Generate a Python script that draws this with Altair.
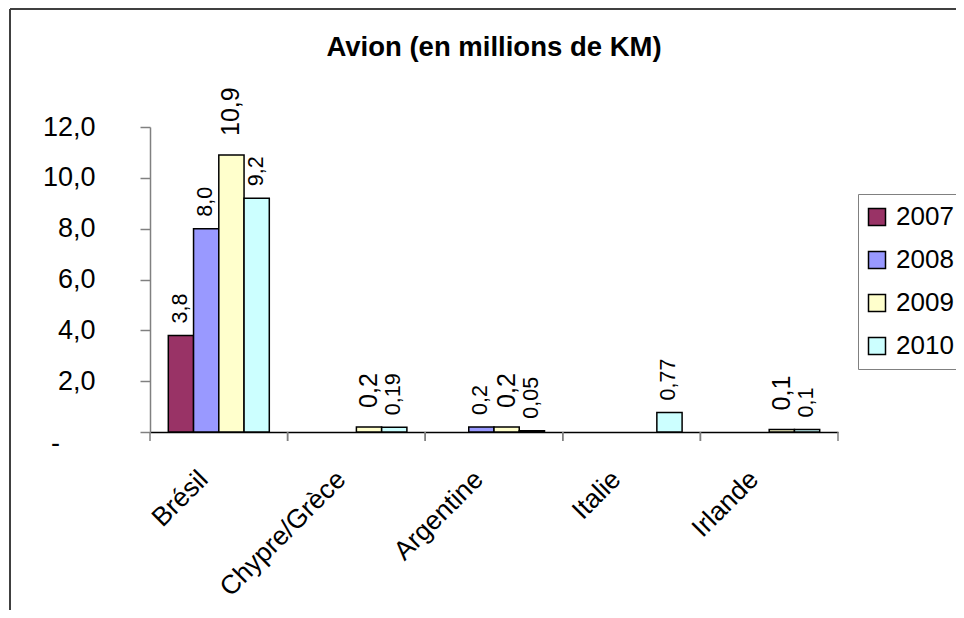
import altair as alt
import pandas as pd

FONT = "Liberation Sans"

categories = ["Brésil", "Chypre/Grèce", "Argentine", "Italie", "Irlande"]
years = ["2007", "2008", "2009", "2010"]
colors = ["#993366", "#9999FF", "#FFFFCC", "#CCFFFF"]

# values per year (None = no bar)
v2007 = [3.8, None, None, None, None]
v2008 = [8.0, None, 0.2, None, None]
v2009 = [10.9, 0.2, 0.2, None, 0.1]
v2010 = [9.2, 0.19, 0.05, 0.77, 0.1]
l2007 = ["3,8", None, None, None, None]
l2008 = ["8,0", None, "0,2", None, None]
l2009 = ["10,9", "0,2", "0,2", None, "0,1"]
l2010 = ["9,2", "0,19", "0,05", "0,77", "0,1"]

y_ticks = [0, 2, 4, 6, 8, 10, 12]
zero_label = "-"

rows = []
for yr, vals, labs in zip(years, [v2007, v2008, v2009, v2010], [l2007, l2008, l2009, l2010]):
    for c, v, l in zip(categories, vals, labs):
        if v is not None:
            rows.append({"pays": c, "annee": yr, "valeur": v, "label": l})
df = pd.DataFrame(rows)
df_cat = pd.DataFrame({"pays": categories})
df_one = pd.DataFrame({"k": [0]})

W, H = 688, 305

x_axis = alt.Axis(
    title=None, ticks=False, domainColor="black", domainWidth=1.5,
    labelAngle=-45, labelAlign="right", labelBaseline="middle",
    labelPadding=43, labelOffset=-15, labelFontSize=26.5, labelFont=FONT,
    labelColor="black",
)
x_bar = alt.X("pays:N", sort=categories,
              scale=alt.Scale(domain=categories, paddingInner=0.266, paddingOuter=0.133),
              axis=x_axis)
xo = alt.XOffset("annee:N", scale=alt.Scale(domain=years, paddingInner=0, paddingOuter=0))

y_axis = alt.Axis(
    title=None, grid=False, values=y_ticks, domainColor="#808080", domainWidth=1.5,
    tickColor="#808080", tickWidth=1.5, tickSize=10, labelPadding=45,
    labelFontSize=27, labelFont=FONT, labelColor="black",
    labelExpr="datum.value == 0 ? '' : replace(format(datum.value, '.1f'), '.', ',')",
)
y = alt.Y("valeur:Q", scale=alt.Scale(domain=[0, 12]), axis=y_axis)

bars = alt.Chart(df).mark_bar(stroke="black", strokeWidth=1.5).encode(
    x=x_bar, xOffset=xo, y=y,
    color=alt.Color("annee:N", scale=alt.Scale(domain=years, range=colors),
                    legend=alt.Legend(
                        title=None, orient="none", legendX=708, legendY=67,
                        strokeColor="#808080", padding=10, symbolType="square",
                        symbolSize=289, symbolStrokeColor="black", symbolStrokeWidth=1.5,
                        symbolOffset=-4,
                        labelFontSize=26, labelFont=FONT, labelColor="black",
                        labelOffset=6, rowPadding=17, fillColor="white")),
)

txt_small = alt.Chart(df).transform_filter(alt.datum.annee != "2009").mark_text(
    angle=270, align="left", baseline="middle", dx=12, fontSize=21.5, font=FONT, color="black"
).encode(x=x_bar, xOffset=xo, y=y, text="label:N")

txt_big = alt.Chart(df).transform_filter(alt.datum.annee == "2009").mark_text(
    angle=270, align="left", baseline="middle", dx=19, fontSize=25, font=FONT, color="black"
).encode(x=x_bar, xOffset=xo, y=y, text="label:N")

# "-" label of the zero tick (accounting style, set further left and lower)
zero_txt = alt.Chart(df_one).mark_text(
    align="right", baseline="middle", dx=-90, dy=12, fontSize=27, font=FONT, color="black"
).encode(x=alt.value(0), y=alt.Y(datum=0, axis=y_axis, scale=alt.Scale(domain=[0, 12])),
         text=alt.value(zero_label))

inner = alt.layer(bars, txt_small, txt_big, zero_txt)

tick_scale = alt.Scale(domain=categories, paddingInner=0, paddingOuter=0)
ticks_start = alt.Chart(df_cat).mark_rule(color="#808080", strokeWidth=1.5).encode(
    x=alt.X("pays:N", sort=categories, scale=tick_scale, bandPosition=0, axis=None),
    y=alt.value(H), y2=alt.value(H + 9))
ticks_end = alt.Chart(df_cat).mark_rule(color="#808080", strokeWidth=1.5).encode(
    x=alt.X("pays:N", sort=categories, scale=tick_scale, bandPosition=1, axis=None),
    y=alt.value(H), y2=alt.value(H + 9))

frame_top = alt.Chart(df_one).mark_rule(color="#404040", strokeWidth=2).encode(
    x=alt.value(-140), x2=alt.value(W + 200), y=alt.value(-118))
frame_left = alt.Chart(df_one).mark_rule(color="#404040", strokeWidth=2).encode(
    x=alt.value(-140), y=alt.value(-118), y2=alt.value(H + 300))

chart = alt.layer(frame_top, frame_left, ticks_start, ticks_end, inner).resolve_scale(
    x="independent", xOffset="independent"
).properties(
    width=W, height=H,
    title=alt.TitleParams("Avion (en millions de KM)", font=FONT, fontSize=27.5,
                          fontWeight="bold", color="black", anchor="middle",
                          offset=10, dy=63),
    autosize=alt.AutoSizeParams(type="none"),
    padding={"left": 142, "top": 119, "right": 118, "bottom": 178},
    background="white",
).configure_view(stroke=None)

chart.save("out.html", embed_options={"renderer": "svg", "actions": False})
